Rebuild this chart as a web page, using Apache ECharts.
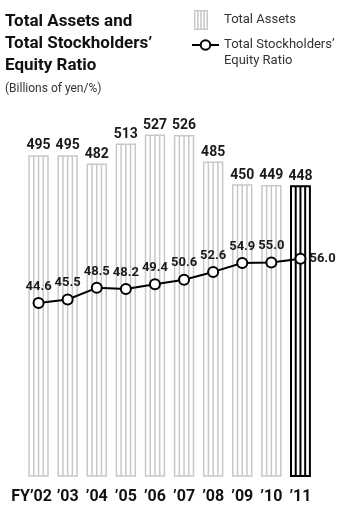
<!DOCTYPE html>
<html>
<head>
<meta charset="utf-8">
<script src="https://cdn.jsdelivr.net/npm/echarts@6/dist/echarts.min.js"></script>
<style>
  html, body { margin: 0; padding: 0; background: #fff; }
  #chart { width: 339px; height: 505px; }
</style>
</head>
<body>
<div id="chart"></div>
<script>
var FONT = 'Roboto, "Liberation Sans", Arial, sans-serif';

var years = ['FY’02', '’03', '’04', '’05', '’06', '’07', '’08', '’09', '’10', '’11'];
var totalAssets = [495, 495, 482, 513, 527, 526, 485, 450, 449, 448];
var equityRatio = [44.6, 45.5, 48.5, 48.2, 49.4, 50.6, 52.6, 54.9, 55.0, 56.0];

var GRAY = '#c8c8c8';

// small striped box for the legend
function stripeIcon() {
  var c = document.createElement('canvas');
  c.width = 14; c.height = 20;
  var ctx = c.getContext('2d');
  ctx.fillStyle = '#fff';
  ctx.fillRect(0, 0, 14, 20);
  ctx.strokeStyle = GRAY;
  ctx.lineWidth = 1.5;
  ctx.strokeRect(0.75, 0.75, 12.5, 18.5);
  for (var k = 1; k < 4; k++) {
    ctx.beginPath();
    ctx.moveTo(0.75 + 12.5 * k / 4, 0);
    ctx.lineTo(0.75 + 12.5 * k / 4, 20);
    ctx.stroke();
  }
  return 'image://' + c.toDataURL();
}

// striped bar drawn from the axis scale
function renderBar(params, api) {
  var i = api.value(0);
  var v = api.value(1);
  var top = api.coord([i, v]);
  var base = api.coord([i, 0]);
  var w = api.size([1, 0])[0] * 0.65;
  var x = top[0] - w / 2;
  var last = params.dataIndex === years.length - 1;
  var col = last ? '#000' : GRAY;
  var lw = last ? 2 : 1.5;
  var children = [{
    type: 'rect',
    shape: { x: x, y: top[1], width: w, height: base[1] - top[1] },
    style: { fill: '#fff', stroke: col, lineWidth: lw }
  }];
  for (var k = 1; k < 4; k++) {
    var lx = x + w * k / 4;
    children.push({
      type: 'line',
      shape: { x1: lx, y1: top[1], x2: lx, y2: base[1] },
      style: { stroke: col, lineWidth: lw }
    });
  }
  children.push({
    type: 'text',
    style: {
      text: String(v), x: top[0], y: top[1] - 3,
      align: 'center', verticalAlign: 'bottom',
      font: 'bold 14px ' + FONT, fill: '#1a1a1a'
    }
  });
  return { type: 'group', children: children };
}

var chart = echarts.init(document.getElementById('chart'));

var option = {
  animation: false,
  title: {
    text: 'Total Assets and\nTotal Stockholders’\nEquity Ratio',
    subtext: '(Billions of yen/%)',
    left: 0,
    top: 6,
    itemGap: 6,
    textStyle: { fontFamily: FONT, fontSize: 17, fontWeight: 'bold', color: '#111', lineHeight: 22 },
    subtextStyle: { fontFamily: FONT, fontSize: 12, color: '#333' }
  },
  legend: [{
    data: [{ name: 'Total Assets', icon: stripeIcon() }],
    left: 194,
    top: 10,
    padding: 0,
    itemWidth: 14,
    itemHeight: 20,
    selectedMode: false,
    textStyle: { fontFamily: FONT, fontSize: 13, color: '#333', padding: [0, 0, 0, 11] }
  }, {
    data: ['Total Stockholders’ Equity Ratio'],
    left: 191,
    top: 21,
    padding: 0,
    itemWidth: 27,
    itemHeight: 12,
    selectedMode: false,
    formatter: function () { return ' \nTotal Stockholders’\nEquity Ratio'; },
    textStyle: { fontFamily: FONT, fontSize: 13, color: '#333', lineHeight: 16 }
  }],
  grid: { left: 24, right: 24, top: 88, bottom: 25 },
  xAxis: {
    type: 'category',
    data: years,
    axisLine: { show: false },
    axisTick: { show: false },
    axisLabel: {
      margin: 13,
      interval: 0,
      color: '#111',
      fontFamily: FONT,
      fontSize: 16,
      fontWeight: 'bold',
      formatter: function (v, i) { return i === 0 ? '{fy|' + v + '}' : v; },
      rich: { fy: { fontFamily: FONT, fontSize: 16, fontWeight: 'bold', color: '#111', padding: [0, 14, 0, 0] } }
    }
  },
  yAxis: [{
    type: 'value', min: 0, max: 600, show: false, splitLine: { show: false }
  }, {
    type: 'value', min: 0, max: 100, show: false, splitLine: { show: false }
  }],
  series: [{
    name: 'Total Assets',
    type: 'custom',
    renderItem: renderBar,
    encode: { x: 0, y: 1 },
    data: totalAssets.map(function (v, i) { return [i, v]; }),
    z: 1
  }, {
    name: 'Total Stockholders’ Equity Ratio',
    type: 'line',
    yAxisIndex: 1,
    data: equityRatio.map(function (v, i) {
      return i === equityRatio.length - 1
        ? { value: v, label: { position: 'right', distance: 3 } }
        : v;
    }),
    symbol: 'circle',
    symbolSize: 10,
    lineStyle: { color: '#000', width: 2 },
    itemStyle: { color: '#fff', borderColor: '#000', borderWidth: 2 },
    label: {
      show: true,
      position: 'top',
      distance: 4,
      formatter: function (p) { return p.value.toFixed(1); },
      fontFamily: FONT,
      fontSize: 13,
      fontWeight: 'bold',
      color: '#1a1a1a'
    },
    z: 5
  }]
};

chart.setOption(option);
</script>
</body>
</html>
